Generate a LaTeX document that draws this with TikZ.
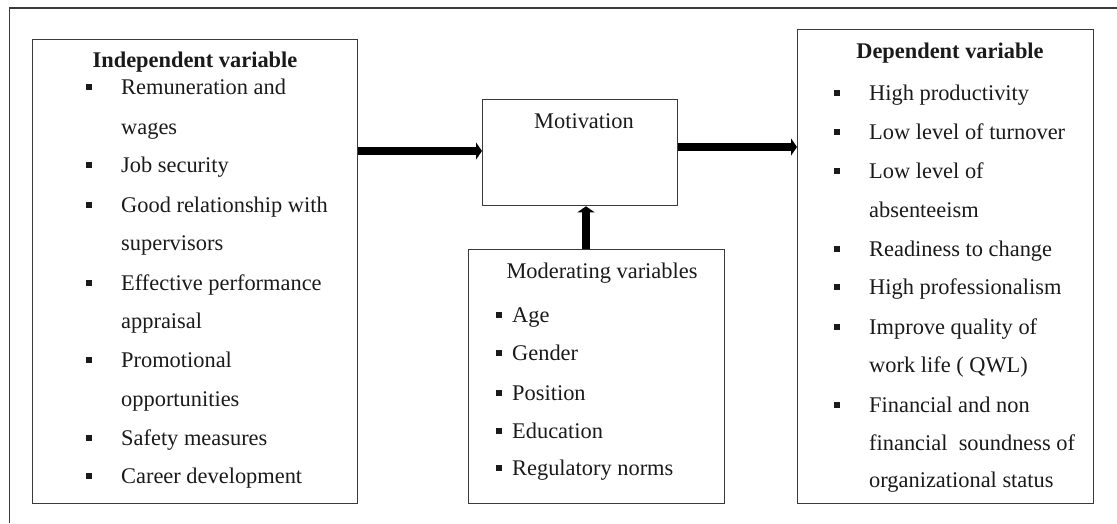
\documentclass[tikz,border=0pt]{standalone}
\usepackage{fontspec}
\setmainfont{Liberation Serif}
\usetikzlibrary{arrows.meta}
\definecolor{frameline}{HTML}{3A3A3A}
\definecolor{ink}{HTML}{1A1A1A}
\begin{document}
\begin{tikzpicture}[x=1pt,y=-1pt,
  box/.style={draw=frameline,line width=1.3pt,inner sep=0pt,anchor=north west},
  txt/.style={inner sep=0pt,anchor=base west,text=ink,font=\fontsize{22.4}{26}\selectfont},
  ttl/.style={inner sep=0pt,anchor=base,text=ink,font=\fontsize{22.4}{26}\selectfont},
  bul/.style={fill=ink,inner sep=0pt,minimum size=6pt},
  flow/.style={line width=8.5pt,draw=black,-{Triangle[length=6pt,width=17pt]}}]
\useasboundingbox (0,0) rectangle (1117,523);
% outer frame (top and left edges)
\draw[frameline,line width=1.3pt] (1117,8) -- (9.5,8) -- (9.5,523);

% boxes
\node[box,minimum width=325pt,minimum height=464pt] (indep) at (32,39) {};
\node[box,minimum width=195pt,minimum height=106pt] (motiv) at (482,99) {};
\node[box,minimum width=256pt,minimum height=254pt] (moder) at (468,249) {};
\node[box,minimum width=296pt,minimum height=474pt] (dep) at (797,29) {};

% titles
\node[ttl,font=\fontsize{22.4}{26}\selectfont\bfseries] (indepT) at (195,67) {Independent variable};
\node[ttl] (motivT) at (584,128) {Motivation};
\node[ttl] (moderT) at (602,278) {Moderating variables};
\node[ttl,font=\fontsize{22.4}{26}\selectfont\bfseries] (depT) at (950,58) {Dependent variable};

% independent variable items
\foreach \y/\b/\t [count=\k] in {
  94/1/{Remuneration and},
  134/0/{wages},
  172/1/{Job security},
  212/1/{Good relationship with},
  250/0/{supervisors},
  290/1/{Effective performance},
  328/0/{appraisal},
  367/1/{Promotional},
  406/0/{opportunities},
  445/1/{Safety measures},
  483/1/{Career development}}{
  \node[txt] (ind\k) at (121,\y) {\t};
  \ifnum\b=1 \node[bul] (indb\k) at (89,\y-7.5) {}; \fi
}

% moderating variable items
\foreach \y/\t [count=\k] in {
  322/{Age},
  360/{Gender},
  400/{Position},
  438/{Education},
  475/{Regulatory norms}}{
  \node[txt] (mod\k) at (512,\y) {\t};
  \node[bul] (modb\k) at (499,\y-7.5) {};
}

% dependent variable items
\foreach \y/\b/\t [count=\k] in {
  100/1/{High productivity},
  139/1/{Low level of turnover},
  178/1/{Low level of},
  217/0/{absenteeism},
  256/1/{Readiness to change},
  294/1/{High professionalism},
  334/1/{Improve quality of},
  372/0/{work life ( QWL)},
  412/1/{Financial and non},
  450/0/{financial\ \ soundness of},
  487/0/{organizational status}}{
  \node[txt] (dp\k) at (869,\y) {\t};
  \ifnum\b=1 \node[bul] (dpb\k) at (837,\y-7.5) {}; \fi
}

% connectors
\coordinate (rowA) at (0,151);
\coordinate (rowB) at (0,147);
\coordinate (colC) at (586,0);
\draw[flow] (indep.east |- rowA) -- (motiv.west |- rowA);
\draw[flow] (motiv.east |- rowB) -- (dep.west |- rowB);
\draw[flow] (moder.north -| colC) -- (motiv.south -| colC);
\end{tikzpicture}
\end{document}
